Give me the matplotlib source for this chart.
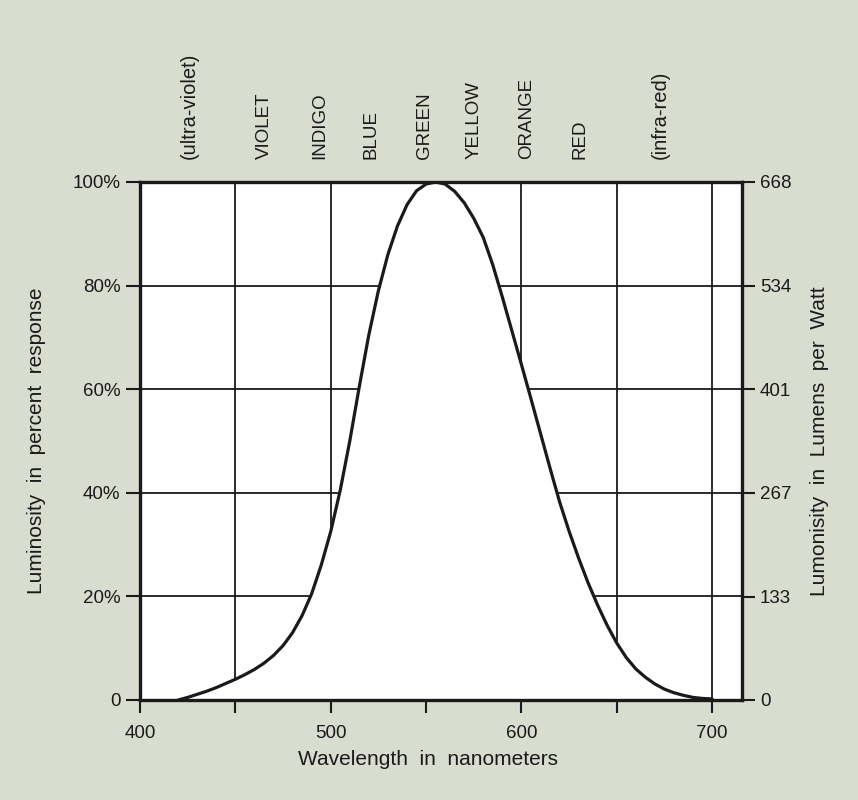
import matplotlib.pyplot as plt

# luminosity curve (percent response)
wavelength = [420, 425, 430, 435, 440, 445, 450, 455, 460, 465, 470, 475,
              480, 485, 490, 495, 500, 505, 510, 515, 520, 525, 530, 535,
              540, 545, 550, 555, 560, 565, 570, 575, 580, 585, 590, 595,
              600, 605, 610, 615, 620, 625, 630, 635, 640, 645, 650, 655,
              660, 665, 670, 675, 680, 685, 690, 695, 700]
response = [0.0, 0.5, 1.1, 1.7, 2.4, 3.2, 4.0, 4.9, 5.9, 7.1, 8.6, 10.5,
            13.0, 16.3, 20.5, 26.0, 32.5, 40.5, 50.0, 60.5, 70.5, 79.0, 86.0, 91.5,
            95.6, 98.3, 99.6, 100.0, 99.6, 98.2, 96.0, 93.0, 89.3, 84.0, 77.8, 71.3,
            64.8, 58.2, 51.5, 44.8, 38.3, 32.6, 27.4, 22.6, 18.3, 14.4, 11.0, 8.2,
            6.0, 4.4, 3.1, 2.1, 1.4, 0.9, 0.5, 0.3, 0.2]

# colour bands named along the top
bands = ['(ultra-violet)', 'VIOLET', 'INDIGO', 'BLUE', 'GREEN',
         'YELLOW', 'ORANGE', 'RED', '(infra-red)']
band_nm = [426, 465, 494, 521, 549, 575, 603, 631, 673]

pct_ticks = [0, 20, 40, 60, 80, 100]
pct_labels = ['0', '20%', '40%', '60%', '80%', '100%']
lumen_ticks = [0, 133, 267, 401, 534, 668]
nm_ticks = [400, 450, 500, 550, 600, 650, 700]
nm_labels = ['400', '', '500', '', '600', '', '700']

plt.rcParams['font.family'] = ['Liberation Sans', 'DejaVu Sans']
BG = '#d9ddd0'
INK = '#1a1a1a'

fig = plt.figure(figsize=(8.58, 8.0), dpi=100, facecolor=BG)
ax = fig.add_axes([0.1632, 0.125, 0.7016, 0.6475])
ax.set_facecolor('white')

ax.set_xlim(400, 715.7)
ax.set_ylim(0, 100)

ax.set_axisbelow(True)
ax.grid(True, color=INK, linewidth=1.3)

ax.fill_between(wavelength, response, 0, color='white', zorder=1.2, linewidth=0)
ax.plot(wavelength, response, color=INK, linewidth=2.3, zorder=3,
        solid_capstyle='round', solid_joinstyle='round')

ax.set_xticks(nm_ticks)
ax.set_xticklabels(nm_labels)
ax.set_yticks(pct_ticks)
ax.set_yticklabels(pct_labels)
ax.tick_params(axis='both', direction='out', width=1.5,
               color=INK, labelcolor=INK, labelsize=13.5)
ax.tick_params(axis='x', length=9, pad=9)
ax.tick_params(axis='y', length=10, pad=4)

for s in ax.spines.values():
    s.set_linewidth(2.4)
    s.set_color(INK)

ax.set_xlabel('Wavelength  in  nanometers', fontsize=15, color=INK)
ax.xaxis.set_label_coords(0.478, -0.097)
ax.set_ylabel('Luminosity  in  percent  response', fontsize=15, color=INK)
ax.yaxis.set_label_coords(-0.157, 0.5)

ax2 = ax.twinx()
ax2.set_ylim(0, 668)
ax2.set_yticks(lumen_ticks)
ax2.set_yticklabels([str(v) for v in lumen_ticks])
ax2.tick_params(axis='y', direction='out', length=9, width=1.5, pad=4,
                color=INK, labelcolor=INK, labelsize=13.5)
for s in ax2.spines.values():
    s.set_visible(False)
ax2.set_ylabel('Lumonisity  in  Lumens  per  Watt', fontsize=15, color=INK)
ax2.yaxis.set_label_coords(1.113, 0.5)

xt = ax.get_xaxis_transform()
for name, nm in zip(bands, band_nm):
    size = 14.5 if name.startswith('(') else 13.5
    ax.text(nm, 1.045, name, transform=xt, rotation=90, ha='center',
            va='bottom', fontsize=size, color=INK)

fig.savefig('out.png', dpi=100, facecolor=BG)
